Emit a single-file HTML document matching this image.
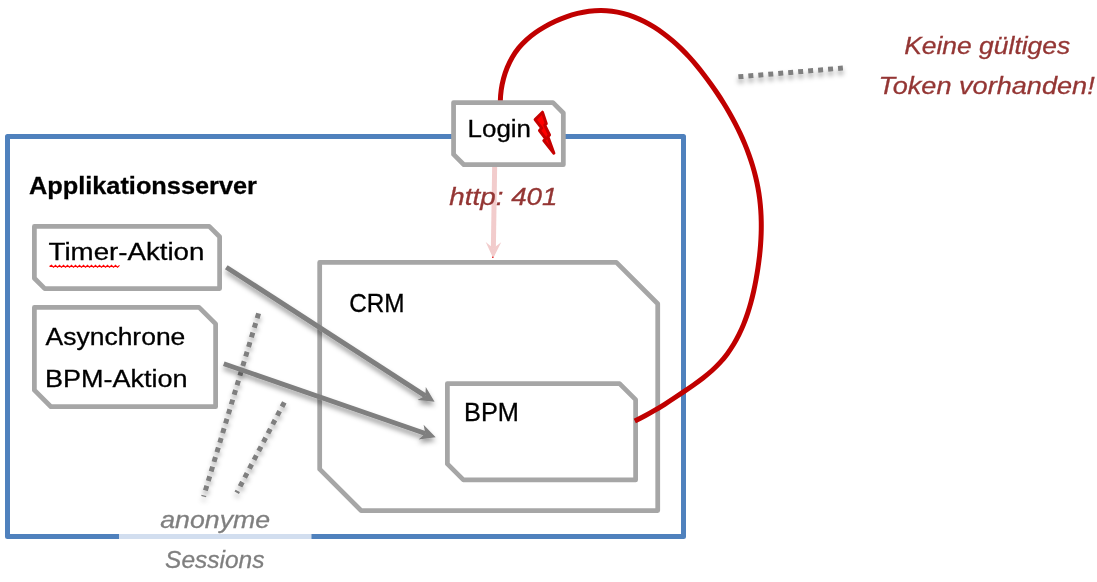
<!DOCTYPE html>
<html lang="de"><head><meta charset="utf-8"><title>Applikationsserver – anonyme Sessions</title>
<style>
html,body{margin:0;padding:0;background:#fff;}
body{width:1097px;height:582px;overflow:hidden;}
svg{display:block;}
svg text{font-family:"Liberation Sans",sans-serif;white-space:pre;}
</style></head><body>
<svg width="1097" height="582" viewBox="0 0 1097 582">
<defs>
<filter id="sh" x="0" y="0" width="1097" height="582" filterUnits="userSpaceOnUse">
<feDropShadow dx="0" dy="3.8" stdDeviation="2.6" flood-color="#000" flood-opacity="0.38"/>
</filter>
</defs>
<rect width="1097" height="582" fill="#fff"/>
<!-- Applikationsserver frame -->
<rect id="frame" x="7.5" y="136.5" width="676" height="400" fill="none" stroke="#4f81bd" stroke-width="5" stroke-linejoin="round"/>
<line x1="119.25" y1="536.5" x2="311.25" y2="536.5" stroke="#fff" stroke-width="7"/>
<line id="fade" x1="119.25" y1="536.5" x2="311.25" y2="536.5" stroke="#d2deef" stroke-width="5"/>
<!-- component boxes -->
<g id="boxes" fill="#fff" stroke="#a6a6a6" stroke-width="4.75" stroke-linejoin="round">
<path id="b_timer" d="M34.38,226.38 H209.25 L219.62,236.75 V288.62 H44.75 L34.38,278.25 Z"/>
<path id="b_async" d="M34.38,307.38 H199.07 L215.62,323.93 V406.73 H50.93 L34.38,390.17 Z"/>
<path id="b_crm" d="M319.68,262.38 H616.37 L657.73,303.73 V510.52 H361.03 L319.68,469.17 Z"/>
<path id="b_bpm" d="M447.38,383.62 H619.58 L635.62,399.68 V479.93 H463.43 L447.38,463.88 Z"/>
</g>
<!-- red curve BPM -> Login -->
<path id="redcurve" d="M500.30,101.50 C500.37,97.65 500.68,93.77 501.22,89.92 C501.76,86.07 502.54,82.25 503.54,78.49 C504.55,74.74 505.78,71.06 507.24,67.50 C508.71,63.94 510.40,60.50 512.31,57.22 C514.23,53.94 516.37,50.83 518.74,47.93 C521.10,45.02 523.68,42.32 526.45,39.80 C529.22,37.27 532.17,34.92 535.27,32.72 C538.36,30.52 541.61,28.48 544.97,26.56 C548.33,24.64 551.81,22.85 555.37,21.21 C558.93,19.57 562.57,18.09 566.28,16.78 C569.99,15.48 573.75,14.35 577.55,13.42 C581.35,12.49 585.17,11.76 589.01,11.26 C592.84,10.76 596.68,10.48 600.50,10.46 C604.32,10.43 608.11,10.66 611.86,11.15 C615.60,11.63 619.31,12.36 622.97,13.32 C626.62,14.27 630.23,15.45 633.77,16.82 C637.31,18.19 640.79,19.75 644.20,21.49 C647.61,23.22 650.95,25.12 654.21,27.16 C657.47,29.20 660.64,31.38 663.73,33.67 C666.81,35.96 669.80,38.37 672.70,40.87 C675.60,43.36 678.41,45.96 681.15,48.64 C683.88,51.32 686.54,54.08 689.13,56.92 C691.71,59.75 694.23,62.65 696.69,65.61 C699.15,68.58 701.54,71.59 703.89,74.66 C706.24,77.72 708.53,80.83 710.78,83.97 C713.04,87.11 715.24,90.29 717.39,93.51 C719.54,96.72 721.64,99.97 723.67,103.25 C725.71,106.53 727.69,109.85 729.60,113.19 C731.51,116.54 733.35,119.92 735.13,123.33 C736.90,126.74 738.60,130.18 740.22,133.65 C741.85,137.12 743.39,140.62 744.85,144.15 C746.31,147.68 747.69,151.24 748.98,154.82 C750.26,158.40 751.46,162.01 752.56,165.65 C753.66,169.29 754.66,172.95 755.56,176.63 C756.46,180.32 757.26,184.03 757.95,187.76 C758.64,191.49 759.22,195.25 759.69,199.02 C760.15,202.80 760.51,206.59 760.77,210.40 C761.03,214.22 761.19,218.04 761.25,221.88 C761.31,225.72 761.28,229.56 761.16,233.42 C761.04,237.27 760.84,241.13 760.55,245.00 C760.26,248.86 759.90,252.72 759.46,256.58 C759.02,260.44 758.51,264.30 757.93,268.15 C757.35,272.00 756.71,275.84 756.01,279.67 C755.31,283.50 754.54,287.31 753.70,291.10 C752.85,294.88 751.93,298.64 750.92,302.36 C749.91,306.08 748.81,309.77 747.61,313.40 C746.40,317.02 745.10,320.60 743.67,324.12 C742.25,327.63 740.71,331.08 739.05,334.45 C737.38,337.83 735.58,341.13 733.65,344.33 C731.71,347.54 729.63,350.66 727.40,353.68 C725.16,356.70 722.77,359.62 720.22,362.42 C717.66,365.23 714.93,367.92 712.05,370.50 C709.17,373.08 706.16,375.55 703.05,377.95 C699.95,380.35 696.77,382.67 693.55,384.93 C690.33,387.20 687.08,389.41 683.86,391.59 C680.64,393.77 677.44,395.93 674.25,398.04 C671.06,400.16 667.87,402.24 664.67,404.27 C661.46,406.30 658.24,408.28 654.99,410.20 C651.73,412.13 648.43,414.00 645.07,415.80 C641.72,417.60 638.30,419.34 634.80,421.00" fill="none" stroke="#c00000" stroke-width="5" stroke-linejoin="round"/>
<!-- pink status arrow -->
<g id="pink"><path d="M494.70,164.00 L493.36,248.20" stroke="#f2cccc" stroke-width="5" fill="none"/><path d="M493.20,258.20 L485.71,242.08 L493.36,248.20 L501.20,242.33 Z" fill="#f2cccc"/></g>
<circle id="tipdot" cx="492.8" cy="257.3" r="0.75" fill="#e00000"/>
<path id="b_login" d="M453.57,102.62 H552.98 L563.33,112.97 V164.72 H463.93 L453.57,154.38 Z" fill="#fff" stroke="#a6a6a6" stroke-width="4.75" stroke-linejoin="round"/>
<path id="bolt" d="M542.47,112.20 L546.29,123.74 L544.72,125.10 L549.53,134.99 L547.95,136.64 L553.90,153.20 L543.81,140.51 L545.74,138.75 L539.47,130.62 L541.72,128.11 L535.10,119.58 Z" fill="#ff0000" stroke="#c60000" stroke-width="3" stroke-linejoin="round"/>
<!-- dotted lines with shadow -->
<g id="dots" filter="url(#sh)" stroke="#7f7f7f" stroke-width="5" stroke-dasharray="5 5" fill="none">
<line id="d1" x1="258.6" y1="313.4" x2="203.6" y2="496.6"/>
<line id="d2" x1="284.32" y1="402.33" x2="236.72" y2="492.78"/>
<line id="d3" x1="738.4" y1="76.85" x2="842.9" y2="68.05"/>
</g>
<!-- grey arrows with shadow -->
<g id="arrows" filter="url(#sh)">
<path d="M226.30,267.25 L425.36,395.83" stroke="#7f7f7f" stroke-width="5" fill="none"/><path d="M434.60,401.80 L417.37,399.90 L425.36,395.83 L425.79,386.88 Z" fill="#7f7f7f"/>
<path d="M223.75,363.75 L425.31,433.60" stroke="#7f7f7f" stroke-width="4.8" fill="none"/><path d="M435.70,437.20 L418.52,439.45 L425.31,433.60 L423.59,424.80 Z" fill="#7f7f7f"/>
</g>
<path id="squiggle" d="M49.5,266.4 L51.5,265.3 L53.5,267.3 L55.5,265.3 L57.5,267.3 L59.5,265.3 L61.5,267.3 L63.5,265.3 L65.5,267.3 L67.5,265.3 L69.5,267.3 L71.5,265.3 L73.5,267.3 L75.5,265.3 L77.5,267.3 L79.5,265.3 L81.5,267.3 L83.5,265.3 L85.5,267.3 L87.5,265.3 L89.5,267.3 L91.5,265.3 L93.5,267.3 L95.5,265.3 L97.5,267.3 L99.5,265.3 L101.5,267.3 L103.5,265.3 L105.5,267.3 L107.5,265.3 L109.5,267.3 L111.5,265.3 L113.5,267.3 L115.5,265.3 L117.5,267.3 L119.5,265.3" fill="none" stroke="#ff0000" stroke-width="1.15"/>
<!-- labels -->
<g id="labels" opacity="0.999">
<text id="t_app" x="28.95" y="193.55" font-size="24.8" fill="#000" font-weight="bold" stroke="#000" stroke-width="0.3" textLength="228.04" lengthAdjust="spacingAndGlyphs">Applikationsserver</text>
<text id="t_timer" x="48.55" y="260.3" font-size="24.8" fill="#000" stroke="#000" stroke-width="0.3" textLength="155.88" lengthAdjust="spacingAndGlyphs">Timer-Aktion</text>
<text id="t_async" x="45.55" y="345.3" font-size="24.8" fill="#000" stroke="#000" stroke-width="0.3" textLength="139.8" lengthAdjust="spacingAndGlyphs">Asynchrone</text>
<text id="t_bpma" x="45.09" y="386.55" font-size="24.8" fill="#000" stroke="#000" stroke-width="0.3" textLength="142.57" lengthAdjust="spacingAndGlyphs">BPM-Aktion</text>
<text id="t_crm" x="349.2" y="312.2" font-size="25.2" fill="#000" stroke="#000" stroke-width="0.3" textLength="55.35" lengthAdjust="spacingAndGlyphs">CRM</text>
<text id="t_bpm" x="464.05" y="421.2" font-size="25.2" fill="#000" stroke="#000" stroke-width="0.3" textLength="54.91" lengthAdjust="spacingAndGlyphs">BPM</text>
<text id="t_login" x="467.57" y="137.3" font-size="24.8" fill="#000" stroke="#000" stroke-width="0.3" textLength="63.5" lengthAdjust="spacingAndGlyphs">Login</text>
<text id="t_http" x="449.35" y="205.35" font-size="24.8" fill="#943634" font-style="italic" stroke="#943634" stroke-width="0.3" textLength="108.16" lengthAdjust="spacingAndGlyphs">http: 401</text>
<text id="t_keine" x="904.15" y="53.85" font-size="24.8" fill="#943634" font-style="italic" stroke="#943634" stroke-width="0.3" textLength="166.11" lengthAdjust="spacingAndGlyphs">Keine gültiges</text>
<text id="t_token" x="878.6" y="94.35" font-size="24.8" fill="#943634" font-style="italic" stroke="#943634" stroke-width="0.3" textLength="216.11" lengthAdjust="spacingAndGlyphs">Token vorhanden!</text>
<text id="t_anon" x="160.25" y="527.6" font-size="24.8" fill="#7f7f7f" font-style="italic" stroke="#7f7f7f" stroke-width="0.3" textLength="109.89" lengthAdjust="spacingAndGlyphs">anonyme</text>
<text id="t_sess" x="165.1" y="568.1" font-size="24.8" fill="#7f7f7f" font-style="italic" stroke="#7f7f7f" stroke-width="0.3" textLength="99.4" lengthAdjust="spacingAndGlyphs">Sessions</text>
</g>
</svg>
</body></html>
